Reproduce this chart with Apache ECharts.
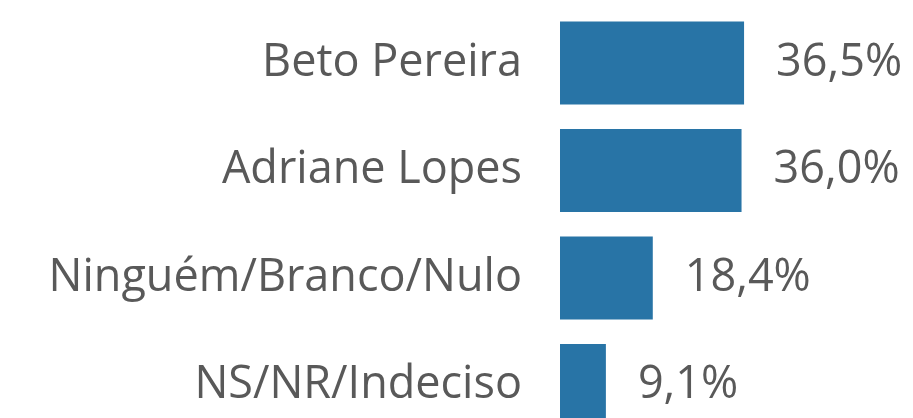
<!DOCTYPE html>
<html><head><meta charset="utf-8">
<script src="https://cdn.jsdelivr.net/npm/echarts@6/dist/echarts.min.js"></script>
<style>html,body{margin:0;padding:0;background:#fff}#c{width:913px;height:418px}</style>
</head><body><div id="c"></div>
<script>
var categories = ['Beto Pereira', 'Adriane Lopes', 'Ninguém/Branco/Nulo', 'NS/NR/Indeciso'];
var values = [36.5, 36.0, 18.4, 9.1];
var labels = ['36,5%', '36,0%', '18,4%', '9,1%'];

var chart = echarts.init(document.getElementById('c'), null, {renderer: 'canvas'});
chart.setOption({
  animation: false,
  grid: {left: 560, top: 9.25, width: 353, height: 430, containLabel: false, outerBoundsMode: 'none'},
  xAxis: {type: 'value', min: 0, max: 70, show: false},
  yAxis: {
    type: 'category', data: categories, inverse: true,
    axisLine: {show: false}, axisTick: {show: false},
    axisLabel: {fontFamily: 'Open Sans', fontSize: 45, color: '#595959', margin: 38}
  },
  series: [{
    type: 'bar', data: values, barWidth: 83,
    itemStyle: {color: '#2874a6'},
    label: {show: true, position: 'right', distance: 32,
      fontFamily: 'Open Sans', fontSize: 45, color: '#595959',
      formatter: function(p){ return labels[p.dataIndex]; }}
  }]
});
</script></body></html>
